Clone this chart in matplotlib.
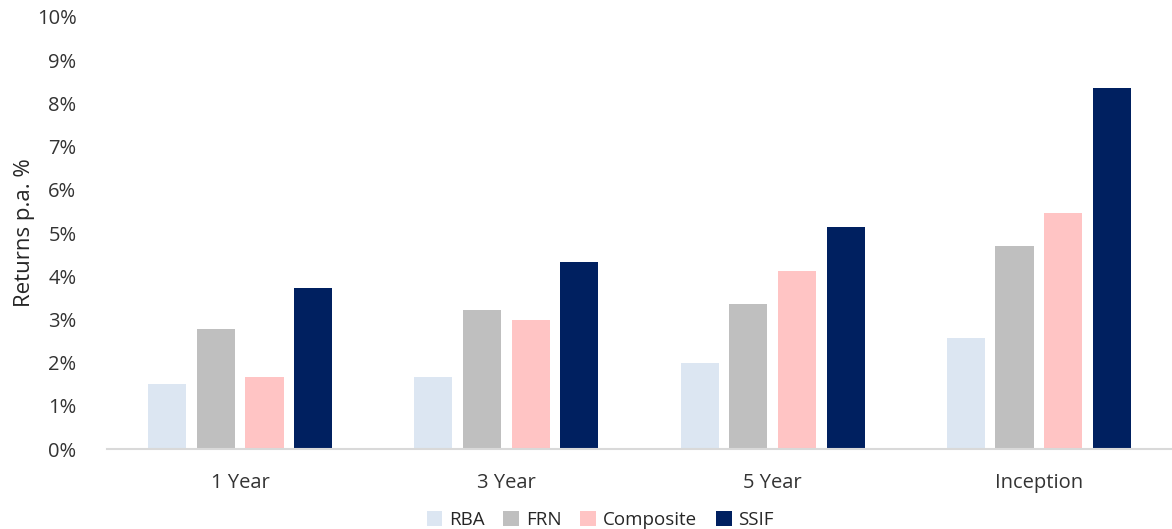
import numpy as np
import matplotlib.pyplot as plt
from matplotlib.ticker import FuncFormatter

plt.rcParams['font.family'] = ['Open Sans', 'DejaVu Sans']

# data
periods = ['1 Year', '3 Year', '5 Year', 'Inception']
rba = [1.50, 1.66, 1.99, 2.57]
frn = [2.77, 3.23, 3.35, 4.70]
composite = [1.66, 2.98, 4.13, 5.46]
ssif = [3.72, 4.32, 5.15, 8.36]

series = [('RBA', rba, '#DCE6F2'),
          ('FRN', frn, '#BFBFBF'),
          ('Composite', composite, '#FFC4C4'),
          ('SSIF', ssif, '#002060')]

fig = plt.figure(figsize=(11.72, 5.29), dpi=100)
ax = fig.add_axes([0.0913, 0.151, 0.9087, 0.817])

x = np.arange(len(periods))
w = 0.143
step = 0.183
for i, (name, vals, col) in enumerate(series):
    ax.bar(x + (i - 1.5) * step, vals, width=w, color=col, label=name)

ax.set_xlim(-0.5, 3.5)
ax.set_ylim(0, 10)
ax.set_yticks(range(0, 11))
ax.yaxis.set_major_formatter(FuncFormatter(lambda v, p: f'{int(v)}%'))
ax.set_xticks(x)
ax.set_xticklabels(periods)
ax.tick_params(axis='both', length=0, labelsize=14.5, colors='#333333')
ax.tick_params(axis='x', pad=17)
ax.tick_params(axis='y', pad=22)
for s in ['top', 'right', 'left']:
    ax.spines[s].set_visible(False)
ax.spines['bottom'].set_color('#D9D9D9')
ax.spines['bottom'].set_linewidth(1.5)
ax.set_ylabel('Returns p.a. %', fontsize=16, color='#262626', labelpad=1)

ax.legend(loc='center', bbox_to_anchor=(0.463, -0.163), ncol=4, frameon=False,
          fontsize=13.5, handlelength=0.85, handleheight=0.85, handletextpad=0.35,
          columnspacing=1.0, labelcolor='#262626')

fig.savefig('out.png', dpi=100)
